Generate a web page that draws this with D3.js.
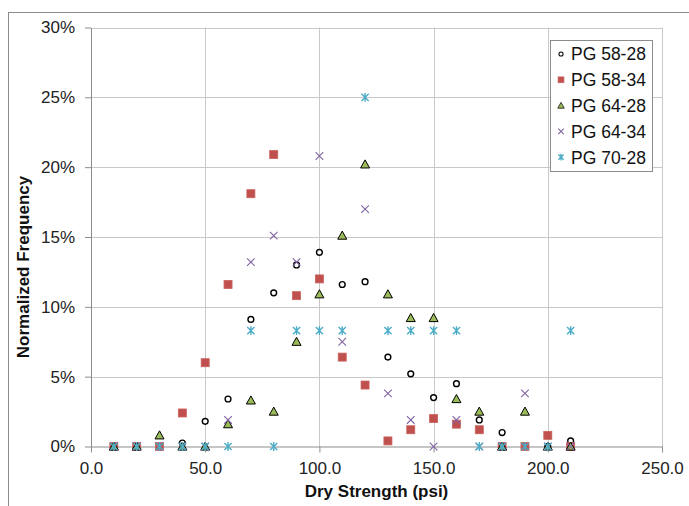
<!DOCTYPE html>
<html>
<head>
<meta charset="utf-8">
<script src="https://cdn.jsdelivr.net/npm/d3@7/dist/d3.min.js"></script>
<style>
  html, body { margin: 0; padding: 0; background: #fff; }
  svg { display: block; font-family: "Liberation Sans", Arial, sans-serif; }
</style>
</head>
<body>
<svg id="chart" width="689" height="506"></svg>
<script>
// Dry strength bins (psi)
const strength = [10, 20, 30, 40, 50, 60, 70, 80, 90, 100, 110, 120, 130, 140, 150, 160, 170, 180, 190, 200, 210];

// Normalized frequency per binder grade (%)
const pg5828 = [0, 0, 0, 0.25, 1.8, 3.4, 9.1, 11.0, 13.0, 13.9, 11.6, 11.8, 6.4, 5.2, 3.5, 4.5, 1.9, 1.0, 0, 0, 0.4];
const pg5834 = [0, 0, 0, 2.4, 6.0, 11.6, 18.1, 20.9, 10.8, 12.0, 6.4, 4.4, 0.4, 1.2, 2.0, 1.6, 1.2, 0, 0, 0.8, 0];
const pg6428 = [0, 0, 0.8, 0, 0, 1.6, 3.3, 2.5, 7.5, 10.9, 15.1, 20.2, 10.9, 9.2, 9.2, 3.4, 2.5, 0, 2.5, 0, 0];
const pg6434 = [0, 0, 0, 0, 0, 1.9, 13.2, 15.1, 13.2, 20.8, 7.5, 17.0, 3.8, 1.9, 0, 1.9, 0, 0, 3.8, 0, 0];
const pg7028 = [0, 0, 0, 0, 0, 0, 8.3, 0, 8.3, 8.3, 8.3, 25.0, 8.3, 8.3, 8.3, 8.3, 0, 0, 0, 0, 8.3];

const seriesNames = ["PG 58-28", "PG 58-34", "PG 64-28", "PG 64-34", "PG 70-28"];
const seriesValues = [pg5828, pg5834, pg6428, pg6434, pg7028];

const xTicks = [0, 50, 100, 150, 200, 250];
const yTicks = [0, 5, 10, 15, 20, 25, 30];

const svg = d3.select("#chart");
const plotL = 91, plotR = 662, plotT = 27.5, plotB = 446.5;

const x = d3.scaleLinear().domain([0, 250]).range([plotL, plotR]);
const y = d3.scaleLinear().domain([0, 30]).range([plotB, plotT]);

// outer chart frame
svg.append("rect")
  .attr("x", 8.5).attr("y", 12.5).attr("width", 720).attr("height", 560)
  .attr("fill", "#fff").attr("stroke", "#8c8c8c").attr("stroke-width", 1);

// gridlines
const grid = svg.append("g").attr("stroke", "#c8c8c8").attr("stroke-width", 1);
grid.selectAll(".gx").data(xTicks.slice(1)).join("line")
  .attr("x1", d => Math.round(x(d)) + 0.5).attr("x2", d => Math.round(x(d)) + 0.5)
  .attr("y1", plotT).attr("y2", plotB);
grid.selectAll(".gy").data(yTicks.slice(1)).join("line")
  .attr("x1", plotL).attr("x2", plotR)
  .attr("y1", d => Math.round(y(d)) + 0.5).attr("y2", d => Math.round(y(d)) + 0.5);

// axes
const fmtX = d3.format(".1f");
const xAxis = d3.axisBottom(x).tickValues(xTicks).tickFormat(fmtX).tickSize(6).tickPadding(9).tickSizeOuter(0);
const yAxis = d3.axisLeft(y).tickValues(yTicks).tickFormat(d => d + "%").tickSize(6).tickPadding(10).tickSizeOuter(0);

const gx = svg.append("g").attr("transform", `translate(0,${plotB})`).call(xAxis);
const gy = svg.append("g").attr("transform", `translate(${plotL},0)`).call(yAxis);
[gx, gy].forEach(g => {
  g.select(".domain").attr("stroke", "#8c8c8c");
  g.selectAll(".tick line").attr("stroke", "#8c8c8c");
  g.selectAll(".tick text").attr("fill", "#222").style("font-size", "17px")
    .style("font-family", "'Liberation Sans', Arial, sans-serif");
});

// axis titles
svg.append("text")
  .attr("x", (plotL + plotR) / 2).attr("y", 497)
  .attr("text-anchor", "middle").attr("font-weight", "bold").attr("font-size", 17).attr("fill", "#111")
  .text("Dry Strength (psi)");
svg.append("text")
  .attr("transform", `translate(29,267) rotate(-90)`)
  .attr("text-anchor", "middle").attr("font-weight", "bold").attr("font-size", 17).attr("fill", "#111")
  .text("Normalized Frequency");

// marker painters
function drawMarker(g, type, s) {
  if (type === 0) {
    g.append("circle").attr("r", 2.9 * s).attr("fill", "#fff").attr("stroke", "#000").attr("stroke-width", 1.4 * s);
  } else if (type === 1) {
    const h = 4 * s;
    g.append("rect").attr("x", -h).attr("y", -h).attr("width", 2 * h).attr("height", 2 * h)
      .attr("fill", "#C0504D").attr("stroke", "#c9615e").attr("stroke-width", 0.8);
  } else if (type === 2) {
    const w = 4.5 * s;
    g.append("path").attr("d", `M0,${-w}L${w},${w * 0.8}L${-w},${w * 0.8}Z`)
      .attr("fill", "#9BBB59").attr("stroke", "#000").attr("stroke-width", 1 * s);
  } else if (type === 3) {
    const a = 3.8 * s;
    g.append("path").attr("d", `M${-a},${-a}L${a},${a}M${-a},${a}L${a},${-a}`)
      .attr("stroke", "#8064A2").attr("stroke-width", 1.1).attr("fill", "none");
  } else {
    const a = 3.6 * s;
    g.append("path").attr("d", `M${-a},${-a}L${a},${a}M${-a},${a}L${a},${-a}M0,${-a - 0.8}L0,${a + 0.8}`)
      .attr("stroke", "#4BACC6").attr("stroke-width", 1.4).attr("fill", "none");
  }
}

// data points, series drawn in order
seriesValues.forEach((vals, si) => {
  const g = svg.append("g");
  g.selectAll("g").data(strength.map((s, i) => ({ s, v: vals[i] }))).join("g")
    .attr("transform", d => `translate(${x(d.s)},${y(d.v)})`)
    .each(function () { drawMarker(d3.select(this), si, 1); });
});

// legend
const lg = svg.append("g");
lg.append("rect").attr("x", 550.5).attr("y", 40.5).attr("width", 102).attr("height", 131)
  .attr("fill", "#fff").attr("stroke", "#8c8c8c");
seriesNames.forEach((name, i) => {
  const yy = 54 + i * 25.8;
  drawMarker(lg.append("g").attr("transform", `translate(561,${yy})`), i, 0.72);
  lg.append("text").attr("x", 571).attr("y", yy).attr("dy", "0.36em")
    .attr("font-size", 17.5).attr("fill", "#111").text(name);
});
</script>
</body>
</html>
